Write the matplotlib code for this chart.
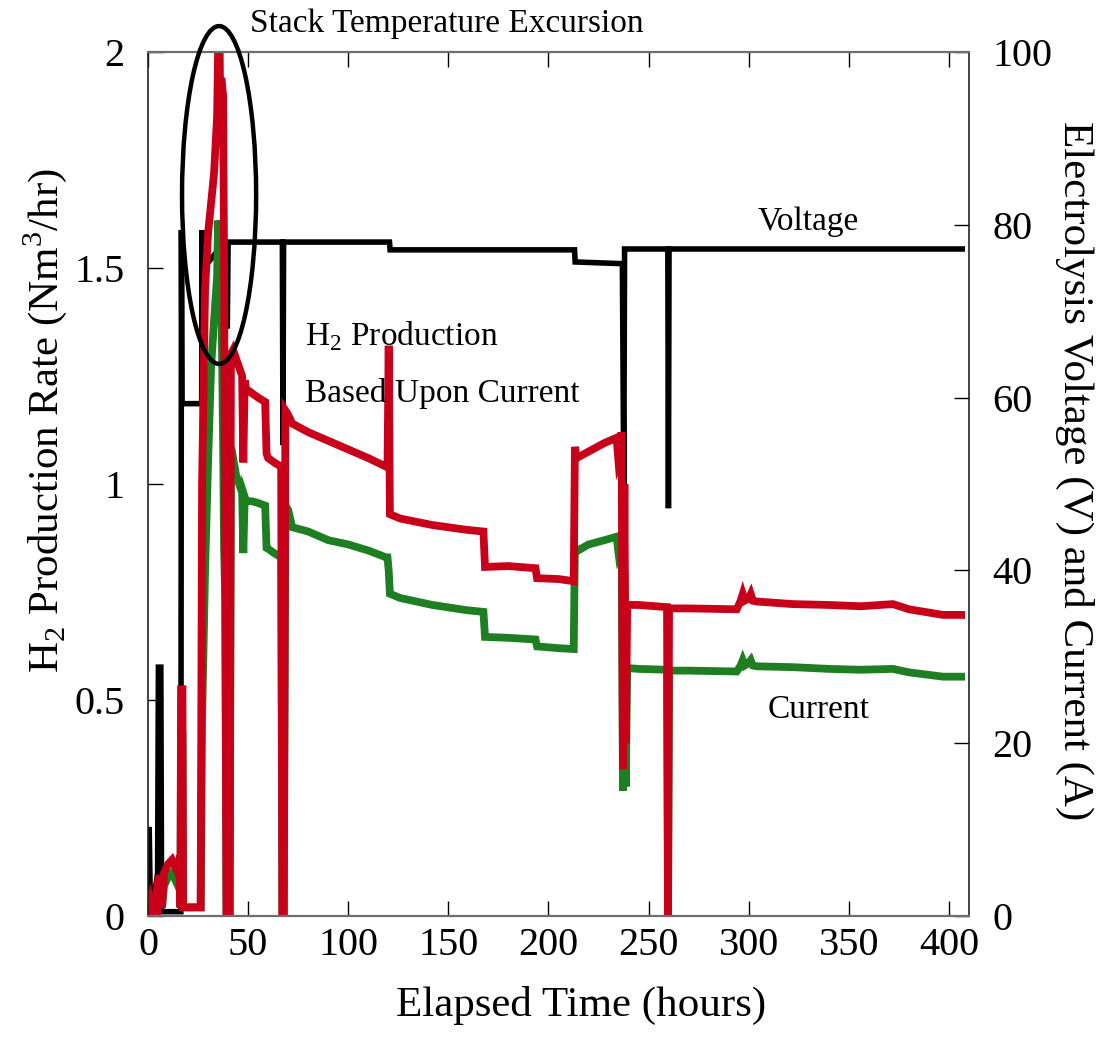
import matplotlib
matplotlib.use("Agg")
import matplotlib.pyplot as plt
from matplotlib.patches import Ellipse

plt.rcParams['font.family'] = ['Liberation Serif', 'DejaVu Serif']
plt.rcParams['mathtext.fontset'] = 'custom'
plt.rcParams['mathtext.rm'] = 'Liberation Serif'

# elapsed time (hours) shared by the H2 rate and current traces
hours = [0, 1, 2, 3, 4, 5, 6, 7, 8, 10,
         12, 14, 15.5, 16.2, 16.5, 17.2, 17.5, 26.3, 27.0, 28.5,
         30.0, 31.5, 33.0, 34.5, 35.0, 35.8, 36.2, 36.6, 37.5, 38.0,
         38.6, 39.2, 40.8, 41.4, 42.5, 44.0, 45.5, 47.0, 47.6, 48.3,
         49.0, 52.0, 55.0, 58.5, 59.2, 60.0, 63.0, 66.5, 67.1, 67.8,
         68.6, 70.0, 72.0, 80.0, 90.0, 100.0, 110.0, 119.0, 119.6, 120.2,
         120.8, 126.0, 142.0, 159.0, 167.5, 168.3, 180.0, 193.5, 194.3, 205.0,
         212.6, 213.2, 214.0, 220.0, 228.0, 234.0, 235.0, 235.8, 236.5, 237.2,
         237.9, 238.6, 239.3, 245.0, 259.2, 259.7, 260.2, 270.0, 294.0, 296.0,
         297.0, 298.0, 300.0, 301.0, 302.0, 304.0, 322.0, 340.0, 356.0, 372.0,
         380.0, 397.0, 408.0]

# H2 production rate (Nm3/hr), left axis
h2_rate = [0.01, 0.03, 0.00, 0.02, 0.05, 0.03, 0.095, 0.02, 0.10, 0.12,
           0.13, 0.11, 0.13, 0.02, 0.525, 0.525, 0.02, 0.02, 1.00, 1.45,
           1.58, 1.65, 1.72, 1.85, 2.00, 2.00, 1.80, 1.94, 1.90, 1.50,
           0.75, 0.00, 0.00, 1.30, 1.31, 1.29, 1.27, 1.25, 1.05, 1.24,
           1.22, 1.21, 1.20, 1.19, 1.07, 1.06, 1.05, 1.04, 0.00, 0.00,
           1.17, 1.16, 1.14, 1.12, 1.10, 1.08, 1.06, 1.04, 1.04, 1.32,
           0.93, 0.92, 0.905, 0.894, 0.89, 0.808, 0.81, 0.805, 0.782, 0.78,
           0.775, 1.086, 1.06, 1.075, 1.095, 1.107, 1.05, 1.06, 1.12, 0.34,
           1.00, 0.40, 0.72, 0.72, 0.715, 0.00, 0.712, 0.712, 0.71, 0.73,
           0.745, 0.73, 0.735, 0.745, 0.73, 0.728, 0.722, 0.72, 0.717, 0.722,
           0.71, 0.697, 0.697]

# stack current (A), right axis
current = [1.0, 0.5, 0.5, 1.0, 2.0, 1.5, 4.0, 1.0, 3.5, 4.5,
           5.0, 4.0, 5.0, 1.0, 21.0, 21.0, 1.0, 1.0, 22.5, 40.0,
           52.5, 63.5, 69.0, 74.0, 80.5, 79.0, 71.0, 72.5, 55.0, 42.5,
           36.5, 0.0, 0.0, 52.5, 53.0, 51.0, 50.0, 49.0, 42.0, 48.5,
           48.0, 48.0, 47.8, 47.5, 42.6, 42.5, 42.0, 41.5, 0.0, 0.0,
           47.5, 47.0, 45.0, 44.5, 43.5, 43.0, 42.3, 41.5, 41.5, 40.0,
           37.3, 36.8, 36.0, 35.4, 35.2, 32.3, 32.2, 32.0, 31.2, 31.0,
           30.9, 42.7, 42.2, 43.0, 43.5, 43.9, 42.0, 42.5, 44.0, 14.5,
           40.0, 15.0, 28.7, 28.6, 28.5, 0.0, 28.4, 28.4, 28.3, 29.0,
           29.6, 29.0, 29.3, 29.6, 29.0, 28.9, 28.8, 28.6, 28.5, 28.6,
           28.2, 27.7, 27.7]

# electrolysis voltage (V), right axis
volt_hours = [0, 0.6, 1.2, 3.0, 4.8, 5.2, 6.4, 6.8, 16.4, 16.7,
              17.0, 26.8, 27.0, 27.4, 27.8, 34.8, 37.5, 39.6, 40.0, 67.1,
              67.4, 67.7, 120.6, 120.9, 213.0, 213.3, 236.9, 237.6, 238.0, 259.6,
              259.9, 260.2, 408]
volts = [10.0, 10.0, 1.0, 2.0, 5.0, 28.8, 28.8, 0.5, 0.5, 79.4,
         59.3, 59.3, 79.4, 48.7, 75.0, 77.0, 71.0, 68.0, 78.0, 78.0,
         54.5, 78.0, 78.0, 77.1, 77.1, 75.7, 75.5, 50.0, 77.2, 77.2,
         47.2, 77.2, 77.2]

x_ticks = [0, 50, 100, 150, 200, 250, 300, 350, 400]
left_ticks = [0, 0.5, 1, 1.5, 2]
left_tick_labels = ['0', '0.5', '1', '1.5', '2']
right_ticks = [0, 20, 40, 60, 80, 100]

red = '#c8001a'
green = '#1e7e22'

fig = plt.figure(figsize=(11.03, 10.37), dpi=100)
ax = fig.add_axes([148 / 1103, 121 / 1037, 821 / 1103, 864 / 1037])
ax2 = ax.twinx()
ax.set_zorder(ax2.get_zorder() + 1)
ax.patch.set_visible(False)

ax2.plot(volt_hours, volts, color='black', lw=4.0, solid_joinstyle='miter', solid_capstyle='butt')
ax2.plot(hours, current, color=green, lw=5.6, solid_joinstyle='miter', solid_capstyle='butt')
ax.plot(hours, h2_rate, color=red, lw=5.6, solid_joinstyle='miter', solid_capstyle='butt')

ax.set_xlim(0, 410)
ax.set_ylim(0, 2)
ax2.set_ylim(0, 100)

ax.set_xticks(x_ticks)
ax.set_yticks(left_ticks)
ax.set_yticklabels(left_tick_labels)
ax2.set_yticks(right_ticks)

ax.tick_params(axis='both', direction='in', length=11, width=1, top=True, right=False, labelsize=29)
ax.tick_params(axis='y', pad=17)
ax.tick_params(axis='x', pad=8)
ax2.tick_params(axis='y', direction='in', length=11, width=1, labelsize=29, pad=17)

for side in ['left', 'right']:
    ax.spines[side].set_color('#222222')
    ax.spines[side].set_linewidth(1.2)
for side in ['top', 'bottom']:
    ax.spines[side].set_color('#6e6e6e')
    ax.spines[side].set_linewidth(1.6)
for side in ax2.spines:
    ax2.spines[side].set_visible(False)

ax.set_xlabel('Elapsed Time (hours)', fontsize=31, va='center')
ax.xaxis.set_label_coords(0.527, -0.103)
ax.set_ylabel(r'H$_{\mathregular{2}}$ Production Rate (Nm$^{\mathregular{3}}$/hr)',
              fontsize=31, va='center', ha='center')
ax.yaxis.set_label_coords(-0.125, 0.574)
ax2.set_ylabel('Electrolysis Voltage (V) and Current (A)', fontsize=31,
               rotation=270, va='center', ha='center')
ax2.yaxis.set_label_coords(1.129, 0.516)

# annotations
ax.text(51, 2.046, 'Stack Temperature Excursion', fontsize=24, va='baseline')
ax.text(304.6, 1.588, 'Voltage', fontsize=24, va='baseline')
ax.text(309.6, 0.458, 'Current', fontsize=24, va='baseline')
ax.text(78.4, 1.322, r'H$_{\mathregular{2}}$ Production', fontsize=24, va='baseline')
ax.text(78.4, 1.19, 'Based Upon Current', fontsize=24, va='baseline')

ax.add_patch(Ellipse((35.5, 1.669), 37, 0.782, fill=False, lw=3.2, ec='black',
                     clip_on=False, zorder=6))

fig.savefig('out.png', dpi=100)
